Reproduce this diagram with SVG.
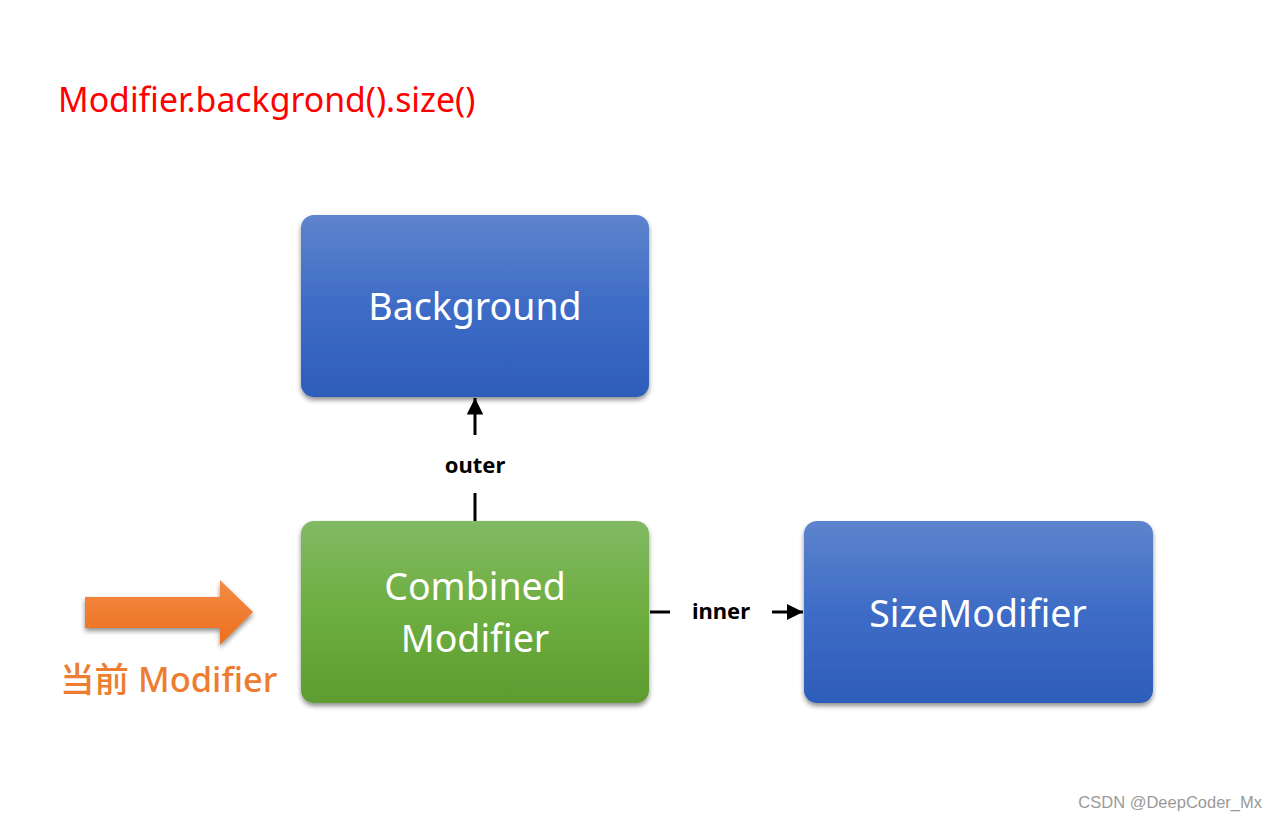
<svg xmlns="http://www.w3.org/2000/svg" width="1276" height="820" viewBox="0 0 1276 820">
<style>
.box-text{font-family:"Noto Sans","Open Sans",sans-serif;font-size:37.5px;fill:#ffffff;text-anchor:middle}
.lbl{font-family:"Noto Sans","Liberation Sans",sans-serif;font-size:22px;font-weight:bold;fill:#000000;text-anchor:middle}
.conn{stroke:#000000;stroke-width:3;fill:none}
</style>
<defs>
<linearGradient id="blue" x1="0" y1="0" x2="0" y2="1">
<stop offset="0" stop-color="#5D84CC"/>
<stop offset="0.5" stop-color="#3E6CC6"/>
<stop offset="1" stop-color="#2D5DB9"/>
</linearGradient>
<linearGradient id="green" x1="0" y1="0" x2="0" y2="1">
<stop offset="0" stop-color="#82B964"/>
<stop offset="0.5" stop-color="#6DAE40"/>
<stop offset="1" stop-color="#5E9C31"/>
</linearGradient>
<linearGradient id="orange" x1="0" y1="0" x2="0" y2="1">
<stop offset="0" stop-color="#F48B45"/>
<stop offset="1" stop-color="#EC6F1E"/>
</linearGradient>
<filter id="shadow" x="-10%" y="-10%" width="120%" height="130%">
<feGaussianBlur in="SourceAlpha" stdDeviation="2.5"/>
<feOffset dx="0" dy="3" result="b"/>
<feComponentTransfer><feFuncA type="linear" slope="0.45"/></feComponentTransfer>
<feMerge><feMergeNode/><feMergeNode in="SourceGraphic"/></feMerge>
</filter>
<marker id="arrow" viewBox="0 0 10 10" refX="10" refY="5" markerWidth="5.5" markerHeight="5.5" orient="auto" markerUnits="strokeWidth">
<path d="M0,0 L10,5 L0,10 z" fill="#000000"/>
</marker>
</defs>
<rect width="1276" height="820" fill="#ffffff"/>
<text x="58" y="112" font-family="Noto Sans,Open Sans,sans-serif" font-size="33.8" fill="#FF0000">Modifier.backgrond().size()</text>
<g id="connectors">
<line class="conn" x1="475" y1="521" x2="475" y2="493"/>
<line class="conn" x1="475" y1="435" x2="475" y2="398" marker-end="url(#arrow)"/>
<text class="lbl" x="475" y="473">outer</text>
<line class="conn" x1="650" y1="612" x2="670" y2="612"/>
<line class="conn" x1="772" y1="612" x2="803" y2="612" marker-end="url(#arrow)"/>
<text class="lbl" x="721" y="619">inner</text>
</g>
<g id="background">
<rect x="301" y="215" width="348" height="182" rx="13" fill="url(#blue)" filter="url(#shadow)"/>
<text class="box-text" x="475" y="320">Background</text>
</g>
<g id="combined">
<rect x="301" y="521" width="348" height="182" rx="13" fill="url(#green)" filter="url(#shadow)"/>
<text class="box-text" x="475" y="600">Combined</text>
<text class="box-text" x="475" y="652">Modifier</text>
</g>
<g id="sizemodifier">
<rect x="804" y="521" width="349" height="182" rx="13" fill="url(#blue)" filter="url(#shadow)"/>
<text class="box-text" x="978" y="627">SizeModifier</text>
</g>
<g id="current">
<path d="M85,597 L220,597 L220,580 L253,612 L220,645 L220,628 L85,628 Z" fill="url(#orange)" filter="url(#shadow)"/>
<text x="60" y="692" font-family="Noto Sans,Noto Sans CJK SC,sans-serif" font-size="34.5" font-weight="500" fill="#ED7D31">当前 Modifier</text>
</g>
<text x="1262" y="808" text-anchor="end" font-family="Liberation Sans,Arial,sans-serif" font-size="16.5" fill="#9a9a9a">CSDN @DeepCoder_Mx</text>
</svg>
